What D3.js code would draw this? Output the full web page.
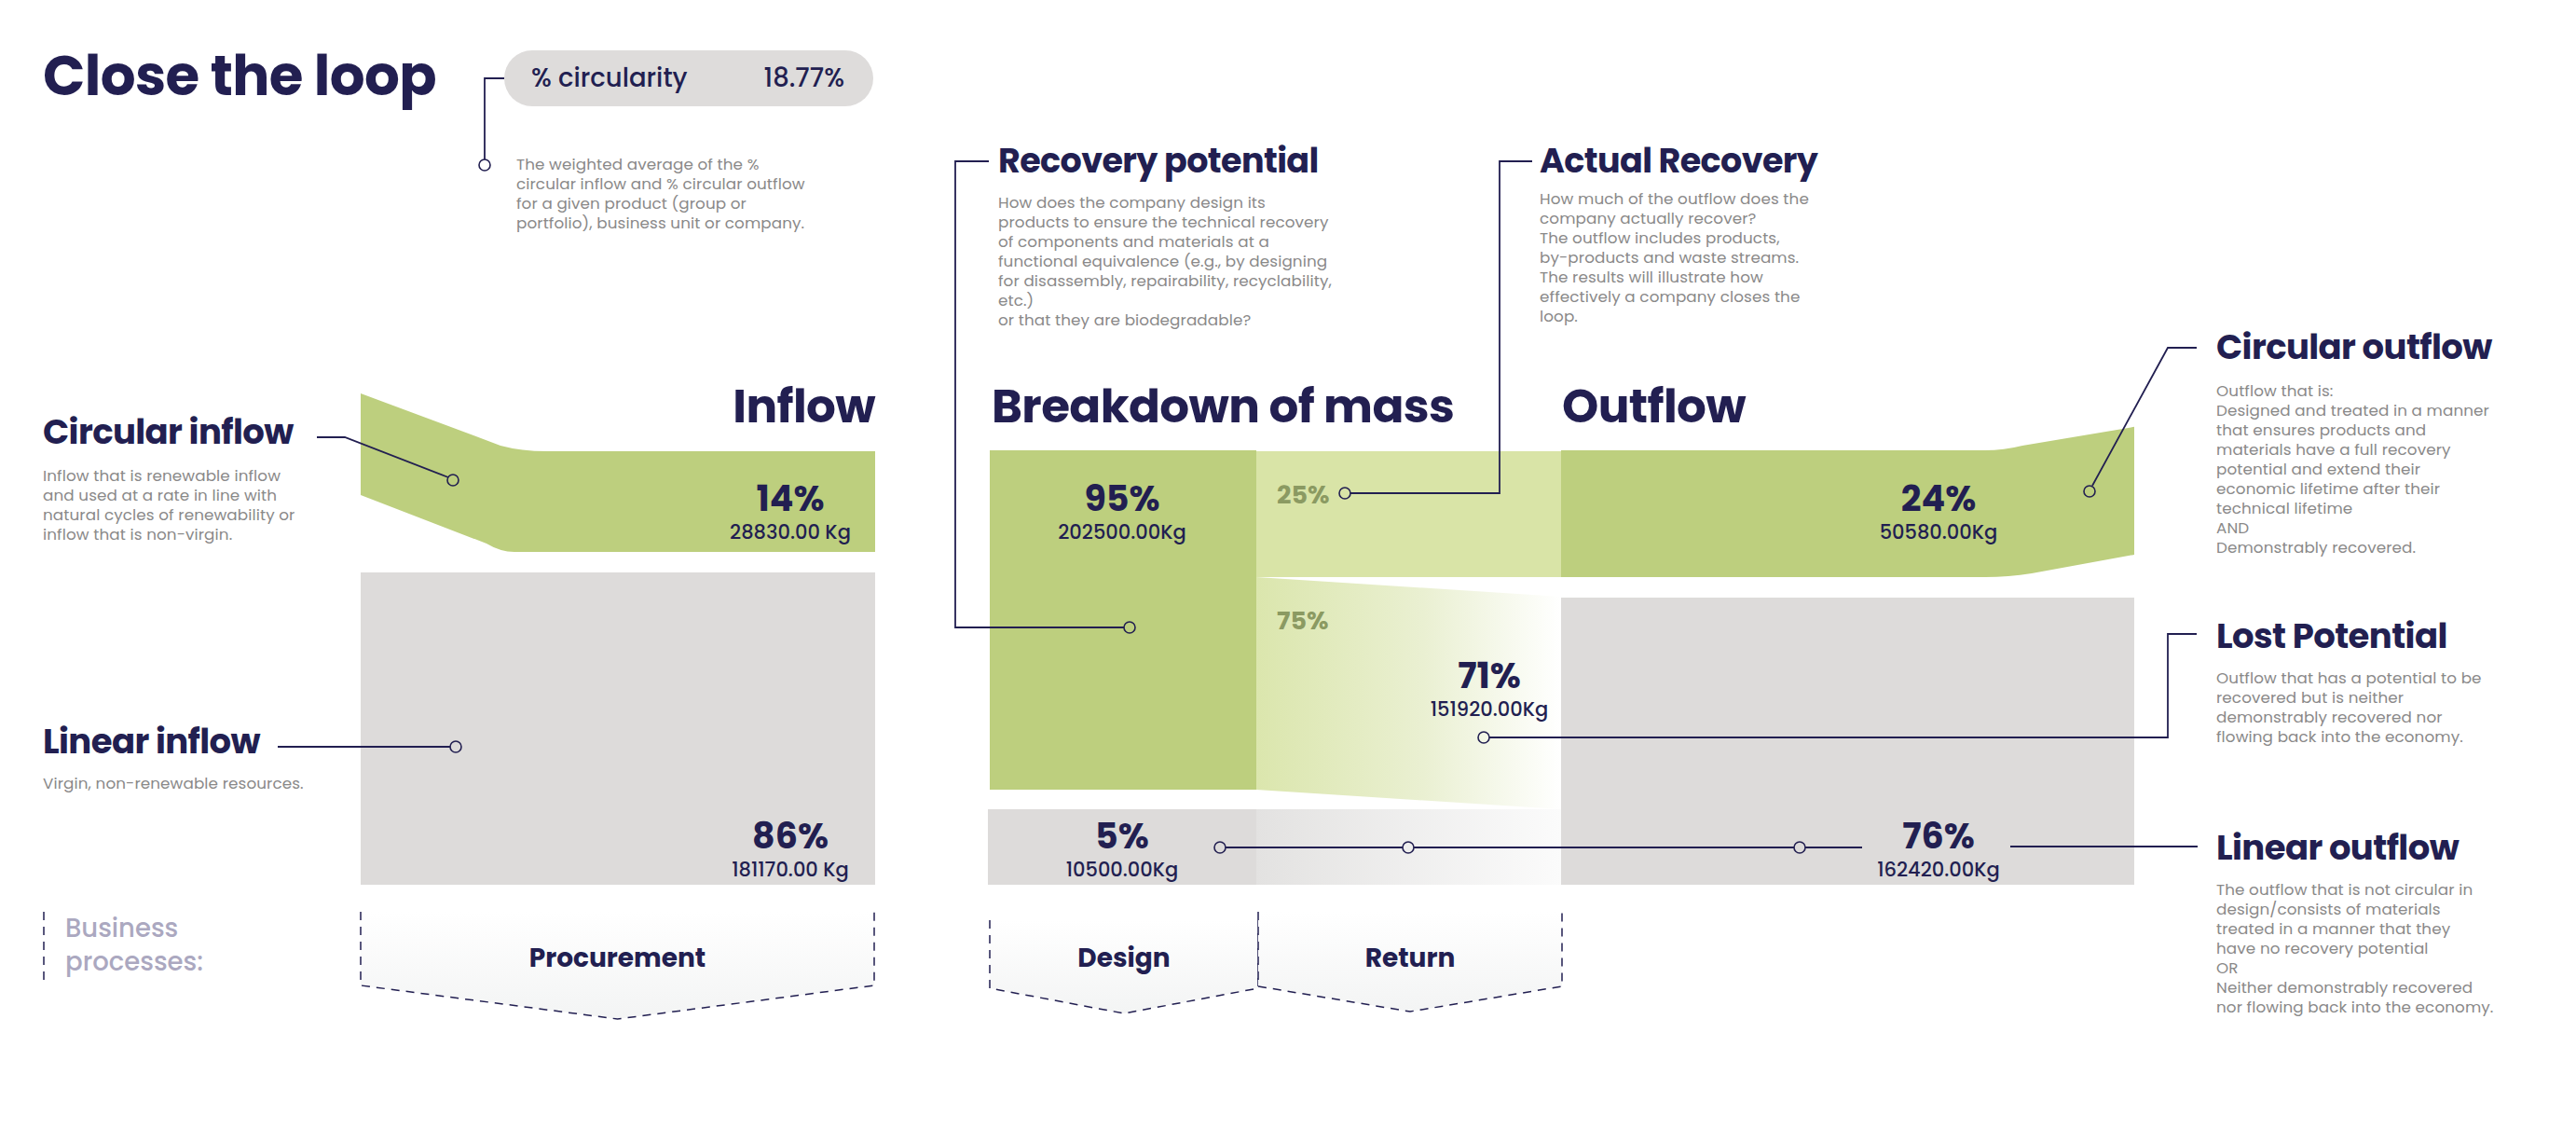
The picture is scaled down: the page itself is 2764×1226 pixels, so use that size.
<!DOCTYPE html>
<html><head><meta charset="utf-8">
<script src="https://cdn.jsdelivr.net/npm/d3@7"></script>
<style>
html,body{margin:0;padding:0;background:#fff;}
svg{display:block;}
text{font-family:Poppins, Inter, "Noto Sans", sans-serif;}
</style></head>
<body>
<svg id="chart" width="2764" height="1226"></svg>
<script>
// ---------------- DATA ----------------
const circularityLabel = "% circularity";
const circularity = 18.77;

const inflowLabels = ["Circular inflow", "Linear inflow"];
const inflowPct = [14, 86];
const inflowKg = [28830, 181170];

const massLabels = ["Recoverable", "Non-recoverable"];
const massPct = [95, 5];
const massKg = [202500, 10500];

const recoveryLabels = ["Actually recovered", "Not recovered"];
const recoveryPct = [25, 75];

const outflowLabels = ["Circular outflow", "Lost Potential", "Linear outflow"];
const outflowPct = [24, 71, 76];
const outflowKg = [50580, 151920, 162420];

const sectionTitles = ["Inflow", "Breakdown of mass", "Outflow"];
const processes = ["Procurement", "Design", "Return"];
const processesTitle = ["Business", "processes:"];

const descriptions = {
  circularity: ["The weighted average of the %", "circular inflow and % circular outflow", "for a given product (group or", "portfolio), business unit or company."],
  recoveryPotential: ["How does the company design its", "products to ensure the technical recovery", "of components and materials at a", "functional equivalence (e.g., by designing", "for disassembly, repairability, recyclability,", "etc.)", "or that they are biodegradable?"],
  actualRecovery: ["How much of the outflow does the", "company actually recover?", "The outflow includes products,", "by-products and waste streams.", "The results will illustrate how", "effectively a company closes the", "loop."],
  circularInflow: ["Inflow that is renewable inflow", "and used at a rate in line with", "natural cycles of renewability or", "inflow that is non-virgin."],
  linearInflow: ["Virgin, non-renewable resources."],
  circularOutflow: ["Outflow that is:", "Designed and treated in a manner", "that ensures products and", "materials have a full recovery", "potential and extend their", "economic lifetime after their", "technical lifetime", "AND", "Demonstrably recovered."],
  lostPotential: ["Outflow that has a potential to be", "recovered but is neither", "demonstrably recovered nor", "flowing back into the economy."],
  linearOutflow: ["The outflow that is not circular in", "design/consists of materials", "treated in a manner that they", "have no recovery potential", "OR", "Neither demonstrably recovered", "nor flowing back into the economy."]
};

// ---------------- STYLE / LAYOUT ----------------
const C = {
  navy: "#221f51", green: "#bdcf7e", lightGreen: "#d9e4a7", gray: "#dddbda",
  text: "#8a8989", olive: "#8b9a62", proc: "#aba8c0"
};
const svg = d3.select("#chart");
const fmt = d3.format(".2f");

// column scale (x) and body scale (y)
const colX = d3.scaleOrdinal().domain(["inL","inR","dL","dR","rR","oR"]).range([387, 939, 1062, 1348, 1675, 2290]);
const y = d3.scaleLinear().domain([0, 1]).range([483, 949]);

const defs = svg.append("defs");
const g1 = defs.append("linearGradient").attr("id","gGreen").attr("x1","0").attr("x2","1").attr("y1","0").attr("y2","0");
g1.append("stop").attr("offset","0").attr("stop-color","#dbe6ad");
g1.append("stop").attr("offset","0.55").attr("stop-color","#eaf0d2");
g1.append("stop").attr("offset","1").attr("stop-color","#ffffff");
const g2 = defs.append("linearGradient").attr("id","gGray").attr("x1","0").attr("x2","1").attr("y1","0").attr("y2","0");
g2.append("stop").attr("offset","0").attr("stop-color","#e3e2e1");
g2.append("stop").attr("offset","1").attr("stop-color","#fbfbfb");
const g3 = defs.append("linearGradient").attr("id","gProc").attr("x1","0").attr("x2","0").attr("y1","0").attr("y2","1");
g3.append("stop").attr("offset","0").attr("stop-color","#ffffff");
g3.append("stop").attr("offset","1").attr("stop-color","#f3f4f4");

// ---- Inflow shapes ----
const inTop = y(0.002), inMid = y(0.2339), inGrayTop = y(0.2811);
svg.append("path").attr("fill", C.green)
  .attr("d", `M${colX("inL")},${y(-0.131)} L${colX("inL")+150},${inTop-6} Q${colX("inL")+172},${inTop} ${colX("inL")+200},${inTop} L${colX("inR")},${inTop} L${colX("inR")},${inMid} L${colX("inL")+165},${inMid} Q${colX("inL")+150},${inMid} ${colX("inL")+135},${inMid-9} L${colX("inL")},${y(0.103)} Z`);
svg.append("rect").attr("fill", C.gray).attr("x", colX("inL")).attr("y", inGrayTop)
  .attr("width", colX("inR")-colX("inL")).attr("height", y(1)-inGrayTop);

// ---- Breakdown of mass ----
const massSplit = y(0.7811), lowTop = y(0.8262);
svg.append("rect").attr("fill", C.green).attr("x", colX("dL")).attr("y", y(0))
  .attr("width", colX("dR")-colX("dL")).attr("height", massSplit-y(0));
svg.append("rect").attr("fill", C.gray).attr("x", colX("dL")-2).attr("y", lowTop)
  .attr("width", colX("dR")-colX("dL")+2).attr("height", y(1)-lowTop);
// actual recovery 25%
const recBottom = y(0.2918);
svg.append("rect").attr("fill", C.lightGreen).attr("x", colX("dR")).attr("y", y(0.002))
  .attr("width", colX("rR")-colX("dR")).attr("height", recBottom-y(0.002));
// 75% trapezoid
svg.append("path").attr("fill","url(#gGreen)")
  .attr("d", `M${colX("dR")},${recBottom} L${colX("rR")},${y(0.3369)} L${colX("rR")},${lowTop} L${colX("dR")},${massSplit} Z`);
svg.append("rect").attr("fill","url(#gGray)").attr("x", colX("dR")).attr("y", lowTop)
  .attr("width", colX("rR")-colX("dR")).attr("height", y(1)-lowTop);

// ---- Outflow ----
const oTop = y(0), oBot = y(0.2918);
svg.append("path").attr("fill", C.green)
  .attr("d", `M${colX("rR")},${oTop} L${2130},${oTop} Q${2150},${oTop} ${2170},${oTop-5} L${colX("oR")},${y(-0.054)} L${colX("oR")},${y(0.2403)} L${2180},${oBot-4} Q${2155},${oBot} ${2130},${oBot} L${colX("rR")},${oBot} Z`);
svg.append("rect").attr("fill", C.gray).attr("x", colX("rR")).attr("y", y(0.3391))
  .attr("width", colX("oR")-colX("rR")).attr("height", y(1)-y(0.3391));

// ---------------- TEXT helpers ----------------
function heading(x, yy, t, size, anchor) {
  svg.append("text").attr("x", x).attr("y", yy).attr("fill", C.navy)
    .attr("font-size", size).attr("font-weight", 700).attr("letter-spacing", -0.6)
    .attr("text-anchor", anchor || "start").text(t);
}
function desc(x, yy, lines) {
  const t = svg.append("text").attr("x", x).attr("y", yy).attr("fill", C.text)
    .attr("font-size", 16.8).attr("letter-spacing", 0.1);
  lines.forEach((l, i) => t.append("tspan").attr("x", x).attr("dy", i ? 21 : 0).text(l));
}
function value(cx, yy, pct, kg, unit) {
  svg.append("text").attr("x", cx).attr("y", yy).attr("fill", C.navy).attr("font-size", 38)
    .attr("font-weight", 700).attr("text-anchor", "middle").text(pct + "%");
  svg.append("text").attr("x", cx).attr("y", yy + 30).attr("fill", C.navy).attr("font-size", 21)
    .attr("font-weight", 500).attr("text-anchor", "middle").text(fmt(kg) + unit);
}
function line(d) {
  svg.append("path").attr("d", d).attr("fill", "none").attr("stroke", C.navy).attr("stroke-width", 1.8);
}
function dot(cx, cy) {
  svg.append("circle").attr("cx", cx).attr("cy", cy).attr("r", 6).attr("fill", "none")
    .attr("stroke", C.navy).attr("stroke-width", 1.6);
}

// ---- Title & circularity pill ----
heading(46, 102, "Close the loop", 59.5);
svg.append("rect").attr("x", 541).attr("y", 54).attr("width", 396).attr("height", 60).attr("rx", 30).attr("fill", "#dedcdb");
svg.append("text").attr("x", 570).attr("y", 93).attr("fill", C.navy).attr("font-size", 27.5).attr("font-weight", 500).text(circularityLabel);
svg.append("text").attr("x", 906).attr("y", 93).attr("fill", C.navy).attr("font-size", 27.5).attr("font-weight", 500).attr("text-anchor", "end").text(circularity.toFixed(2) + "%");
line("M541,84 H520 V171"); dot(520, 177);
desc(554, 182, descriptions.circularity);

// ---- Recovery potential / Actual recovery ----
heading(1071, 185, "Recovery potential", 36.5);
desc(1071, 223, descriptions.recoveryPotential);
line("M1061,173 H1025 V673 H1206"); dot(1212, 673);
heading(1652, 185, "Actual Recovery", 36.5);
desc(1652, 219, descriptions.actualRecovery);
line("M1644,173 H1609 V529 H1449"); dot(1443, 529);

// ---- Section titles ----
heading(colX("inR"), 453, sectionTitles[0], 50, "end");
heading(colX("dL")+2, 453, sectionTitles[1], 50);
heading(colX("rR")+1, 453, sectionTitles[2], 50);

// ---- Inflow labels ----
heading(46, 476, inflowLabels[0], 37);
desc(46, 516, descriptions.circularInflow);
line("M340,469 H370 L481,512"); dot(486, 515);
heading(46, 808, inflowLabels[1], 37);
desc(46, 846, descriptions.linearInflow);
line("M298,801 H483"); dot(489, 801);

value(848, 548, inflowPct[0], inflowKg[0], " Kg");
value(848, 910, inflowPct[1], inflowKg[1], " Kg");

// ---- Mass values ----
value(1204, 548, massPct[0], massKg[0], "Kg");
value(1204, 910, massPct[1], massKg[1], "Kg");
svg.append("text").attr("x", 1370).attr("y", 540).attr("fill", C.olive).attr("font-size", 27).attr("font-weight", 700).text(recoveryPct[0] + "%");
svg.append("text").attr("x", 1370).attr("y", 675).attr("fill", C.olive).attr("font-size", 27).attr("font-weight", 700).text(recoveryPct[1] + "%");

// ---- Outflow values & labels ----
value(2080, 548, outflowPct[0], outflowKg[0], "Kg");
value(1598, 738, outflowPct[1], outflowKg[1], "Kg");
value(2080, 910, outflowPct[2], outflowKg[2], "Kg");

heading(2378, 385, outflowLabels[0], 37);
desc(2378, 425, descriptions.circularOutflow);
line("M2357,373 H2326 L2245,521"); dot(2242, 527);

heading(2378, 695, outflowLabels[1], 37);
desc(2378, 733, descriptions.lostPotential);
line("M1598,791 H2326 V680 H2357"); dot(1592, 791);

heading(2378, 922, outflowLabels[2], 37);
desc(2378, 960, descriptions.linearOutflow);
line("M1315,909 H1505 M1517,909 H1925 M1937,909 H1998 M2157,908 H2358");
dot(1309, 909); dot(1511, 909); dot(1931, 909);

// ---- Business processes ----
svg.append("line").attr("x1", 47).attr("x2", 47).attr("y1", 978).attr("y2", 1052)
  .attr("stroke", C.navy).attr("stroke-width", 1.5).attr("stroke-dasharray", "9,7");
processesTitle.forEach((t, i) => {
  svg.append("text").attr("x", 70).attr("y", 1005 + i * 36).attr("fill", C.proc)
    .attr("font-size", 27.5).attr("font-weight", 500).text(t);
});

const chevrons = [
  {x0: 387, x1: 938, top: 978, side: 1057, tip: 1093},
  {x0: 1062, x1: 1350, top: 987, side: 1060, tip: 1087},
  {x0: 1350, x1: 1676, top: 978, side: 1058, tip: 1085}
];
chevrons.forEach((c, i) => {
  const mx = (c.x0 + c.x1) / 2;
  svg.append("path").attr("fill", "url(#gProc)")
    .attr("d", `M${c.x0},${c.top} L${c.x1},${c.top} L${c.x1},${c.side} L${mx},${c.tip} L${c.x0},${c.side} Z`);
  svg.append("path").attr("fill", "none").attr("stroke", C.navy).attr("stroke-width", 1.5).attr("stroke-dasharray", "9,7")
    .attr("d", `M${c.x0},${c.top} L${c.x0},${c.side} L${mx},${c.tip} L${c.x1},${c.side} L${c.x1},${c.top}`);
  svg.append("text").attr("x", mx).attr("y", 1037).attr("fill", C.navy).attr("font-size", 28)
    .attr("font-weight", 700).attr("text-anchor", "middle").text(processes[i]);
});
</script>
</body></html>
